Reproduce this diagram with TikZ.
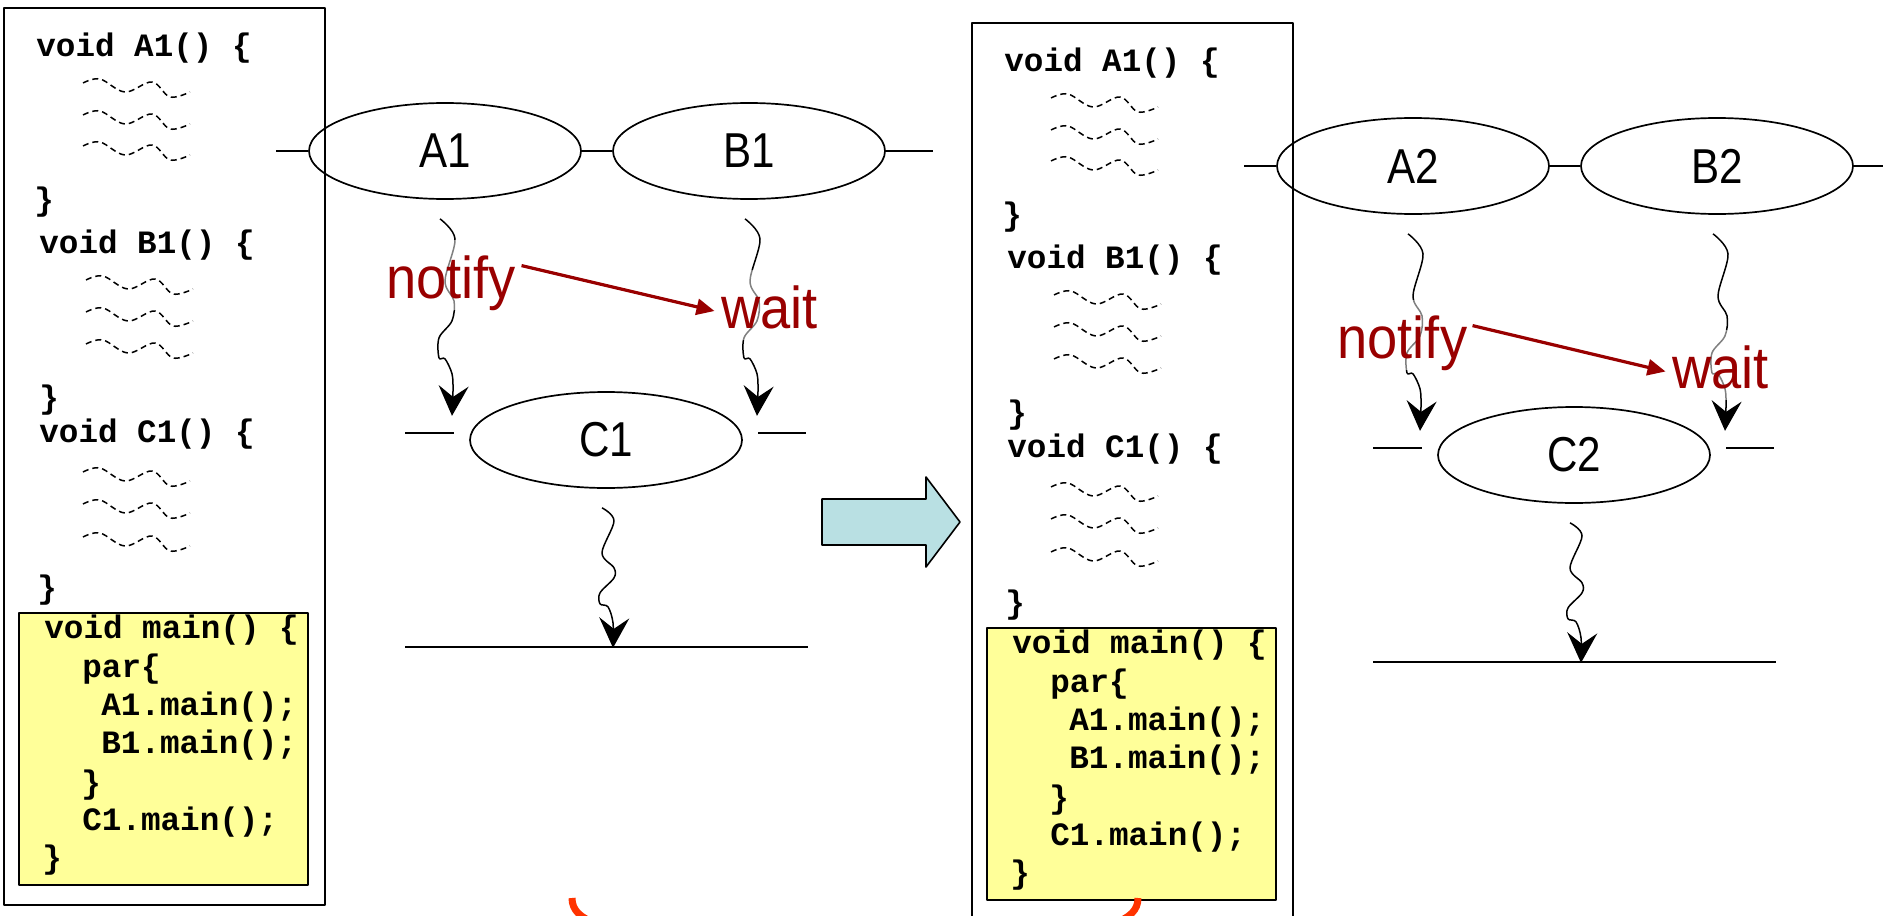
\documentclass[tikz,border=0pt]{standalone}
\usepackage{fontspec}
\usetikzlibrary{shapes.geometric,arrows.meta}
\newfontfamily\codefont{Liberation Mono}
\newfontfamily\lblfont[FakeStretch=0.92]{Liberation Sans}
\newfontfamily\procfont[FakeStretch=0.86]{Liberation Sans}
\definecolor{codeyellow}{HTML}{FFFF99}
\definecolor{labelred}{HTML}{990000}
\definecolor{arrowblue}{HTML}{B9E0E3}
\definecolor{arcorange}{HTML}{FF3300}
\tikzset{
  codetxt/.style={font={\codefont\bfseries\fontsize{16.3}{18}\selectfont}, anchor=base west, inner sep=0pt},
  panel/.style={draw=black, line width=1pt},
  ybox/.style={draw=black, line width=1pt, fill=codeyellow},
  squigline/.style={line width=0.75pt, dash pattern=on 3pt off 2pt},
  pics/squig/.style={code={\draw[squigline] plot[smooth,tension=0.6] coordinates {(0,3) (17,-1) (42,12) (69,2) (87,17) (107,12)};}},
  wig/.style={line width=0.75pt, -{Stealth[length=15pt,width=15pt,inset=5.5pt]}},
  pics/longwig/.style={code={\draw[wig] plot[smooth,tension=0.55] coordinates {(0,0) (15,20) (5,62) (14,82) (12,102) (-1,119) (-1,139) (5,140) (12,155) (13,172) (12,197)};}},
  pics/shortwig/.style={code={\draw[wig] plot[smooth,tension=0.55] coordinates {(0,0) (12,13) (0,45) (12,60) (12,70) (-2,85) (-2,96) (6,99) (11,115) (11,140)};}},
  proc/.style={ellipse, draw, line width=0.85pt, minimum width=136pt, minimum height=48pt, inner sep=0pt, font={\procfont\fontsize{24.5}{25}\selectfont}},
  conn/.style={line width=0.85pt},
  redlbl/.style={font={\lblfont\fontsize{29.5}{30}\selectfont}, text=labelred, anchor=base west, inner xsep=0pt, inner ysep=0pt, text height=29pt, text depth=6pt, fill=white, fill opacity=0.5, text opacity=1},
  redarrow/.style={draw=labelred, line width=1.6pt, -{Triangle[length=9pt,width=8pt]}},
  bigarrow/.style={draw=black, line width=0.8pt, fill=arrowblue},
  arcline/.style={draw=arcorange, line width=3.5pt},
}
\newcommand\codepanel[1]{%
  \coordinate (#1-tl) at (4,8); \coordinate (#1-br) at (325,905);
  \draw[panel] (#1-tl) rectangle (#1-br);
  \coordinate (#1-ytl) at (19,613); \coordinate (#1-ybr) at (308,885);
  \draw[ybox] (#1-ytl) rectangle (#1-ybr);
  \node[codetxt] (#1-a) at (36,57) {void A1() \{};
  \pic at (83,80) {squig}; \pic at (83,112) {squig}; \pic at (83,143) {squig};
  \node[codetxt] (#1-ae) at (34,210) {\}};
  \node[codetxt] (#1-b) at (39,253) {void B1() \{};
  \pic at (86,277) {squig}; \pic at (86,309) {squig}; \pic at (86,341) {squig};
  \node[codetxt] (#1-be) at (39,408) {\}};
  \node[codetxt] (#1-c) at (39,442) {void C1() \{};
  \pic at (83,469) {squig}; \pic at (83,501) {squig}; \pic at (83,534) {squig};
  \node[codetxt] (#1-ce) at (37,598) {\}};
  \node[codetxt] (#1-m) at (44,638) {void main() \{};
  \node[codetxt] (#1-p) at (82,677) {par\{};
  \node[codetxt] (#1-ma) at (101,715) {A1.main();};
  \node[codetxt] (#1-mb) at (101,753) {B1.main();};
  \node[codetxt] (#1-pe) at (81,793) {\}};
  \node[codetxt] (#1-mc) at (82,830) {C1.main();};
  \node[codetxt] (#1-me) at (42,868) {\}};
}
\newcommand\procdiagram[4]{%
  \node[proc] (#1A) at ({445+#3},{151+#4}) {A#2};
  \node[proc] (#1B) at ({749+#3},{151+#4}) {B#2};
  \node[proc] (#1C) at ({606+#3},{440+#4}) {C#2};
  \coordinate (#1l) at ({276+#3},{151+#4});
  \coordinate (#1r) at ({933+#3},{151+#4});
  \draw[conn] (#1l) -- (#1A.west);
  \draw[conn] (#1A.east) -- (#1B.west);
  \draw[conn] (#1B.east) -- (#1r);
  \coordinate (#1cl1) at ({405+#3},{433+#4}); \coordinate (#1cl2) at ({454+#3},{433+#4});
  \coordinate (#1cr1) at ({758+#3},{433+#4}); \coordinate (#1cr2) at ({806+#3},{433+#4});
  \draw[conn] (#1cl1) -- (#1cl2);
  \draw[conn] (#1cr1) -- (#1cr2);
  \coordinate (#1bl) at ({405+#3},{647+#4}); \coordinate (#1br) at ({808+#3},{647+#4});
  \draw[conn] (#1bl) -- (#1br);
  \pic at ([shift={(-5,19)}]#1A.south) {longwig};
  \pic at ([shift={(-4,19)}]#1B.south) {longwig};
  \pic at ([shift={(-4,19)}]#1C.south) {shortwig};
}
\begin{document}
\begin{tikzpicture}[x=0.5pt,y=-0.5pt,line join=round]
\useasboundingbox (0,0) rectangle (1883,915);
\clip (0,0) rectangle (1883,915);
\fill[white] (0,0) rectangle (1883,915);
\codepanel{L}
\begin{scope}[shift={(968,15)}]
\codepanel{R}
\end{scope}
\procdiagram{L}{1}{0}{0}
\procdiagram{R}{2}{968}{15}
\node[redlbl] (LN) at (386,298) {notify};
\node[redlbl] (LW) at (721,328) {wait};
\node[redlbl] (RN) at (1337,358) {notify};
\node[redlbl] (RW) at (1672,388) {wait};
\draw[redarrow] ([xshift=2.5pt,yshift=-13pt]LN.north east) -- ([xshift=-3.25pt,yshift=-3pt]LW.west);
\draw[redarrow] ([xshift=2.5pt,yshift=-13pt]RN.north east) -- ([xshift=-3.25pt,yshift=-3.25pt]RW.west);
\draw[bigarrow] (822,499) -- (926,499) -- (926,477) -- (960,522) -- (926,567) -- (926,545) -- (822,545) -- cycle;
\draw[arcline] (572,898) .. controls (572,910) and (580,918) .. (598,924);
\draw[arcline] (1138,898) .. controls (1138,910) and (1130,918) .. (1112,924);
\end{tikzpicture}
\end{document}
